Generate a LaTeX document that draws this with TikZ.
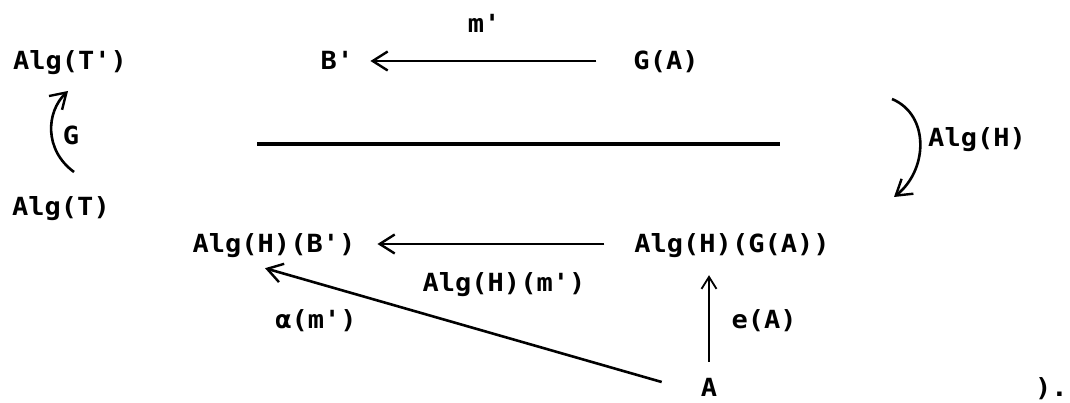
\documentclass[tikz,border=0pt]{standalone}
\usepackage{fontspec}
\newfontfamily\dfont{DejaVu Sans Mono}[FakeStretch=1.08,Ligatures=TeXOff]
\usetikzlibrary{arrows.meta}
\begin{document}
\begin{tikzpicture}[x=1pt,y=-1pt,
  lbl/.style={inner sep=0pt, anchor=base, font=\dfont\bfseries\fontsize{25}{25}\selectfont, text height=18pt, text depth=0pt},
  arr/.style={line width=2.6pt, -{Straight Barb[length=15pt,width=19pt,line width=2.4pt]}},
  thinarr/.style={line width=1.8pt, -{Straight Barb[length=12pt,width=15pt,line width=1.8pt]}}
]
\useasboundingbox (0,0) rectangle (1070,403);
% objects
\node[lbl] (AlgTp) at (70,70) {Alg(T')};
\node[lbl] (Bp) at (337,70) {B'};
\node[lbl] (GA) at (666,70) {G(A)};
\node[lbl] (mp) at (484,33) {m'};
\node[lbl] (AlgT) at (61,216) {Alg(T)};
\node[lbl] (Glab) at (71,145) {G};
\node[lbl] (AlgHlab) at (977,147) {Alg(H)};
\node[lbl] (AHB) at (274,253) {Alg(H)(B')};
\node[lbl] (AHGA) at (732,253) {Alg(H)(G(A))};
\node[lbl] (AHm) at (504,291) {Alg(H)(m')};
\node[lbl] (alpha) at (316,328) {α(m')};
\node[lbl] (eA) at (764,328) {e(A)};
\node[lbl] (A) at (709,396) {A};
\node[lbl, anchor=base west] (endp) at (1035,396) {).};
% free ends of the curved arrows
\coordinate (g1) at (74,172);
\coordinate (g2) at (68,91);
\coordinate (h1) at (892,99);
\coordinate (h2) at (894,197);
% thick rule
\draw[line width=4.2pt] (257,144) -- (780,144);
% connectors
\draw[arr, shorten <=37pt, shorten >=17pt] (GA.west) -- (Bp.east);
\draw[arr, shorten <=30pt, shorten >=22pt] (AHGA.west) -- (AHB.east);
\draw[thinarr, shorten <=16pt, shorten >=22pt] (A.north) -- (A.north |- AHGA.south);
\draw[arr] ([shift={(-39,-5)}]A.west) -- ([shift={(-9,15)}]AHB.south);
\draw[arr] (g1) .. controls (44,150) and (46,112) .. (g2);
\draw[arr] (h1) .. controls (930,115) and (928,170) .. (h2);
\end{tikzpicture}
\end{document}
